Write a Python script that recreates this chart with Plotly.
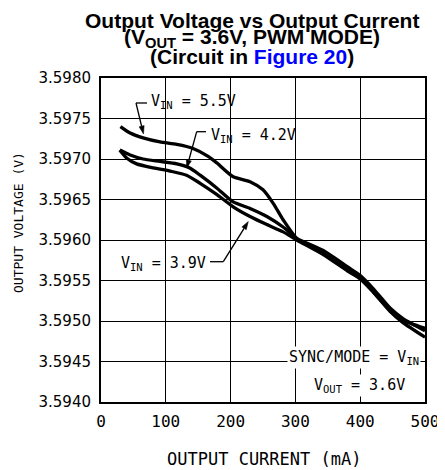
import math
import plotly.graph_objects as go

# ---- data ----
i_55 = [30, 45, 65, 91, 117, 142, 166, 179, 204, 230, 250, 266, 281, 302, 343, 380, 400, 420, 446, 466, 500]
v_55 = [3.59740, 3.59732, 3.59726, 3.59721, 3.59718, 3.59713, 3.59703, 3.59695, 3.59678, 3.59672,
        3.59662, 3.59645, 3.59625, 3.59602, 3.59583, 3.59563, 3.59553, 3.59536, 3.59512, 3.59498, 3.59480]

i_42 = [29, 45, 65, 91, 117, 137, 153, 179, 204, 230, 256, 281, 302, 343, 380, 400, 420, 446, 466, 500]
v_42 = [3.59711, 3.59705, 3.59700, 3.59697, 3.59694, 3.59689, 3.59680, 3.59664, 3.59647, 3.59639,
        3.59629, 3.59616, 3.59602, 3.59587, 3.59567, 3.59556, 3.59540, 3.59516, 3.59503, 3.59488]

i_39 = [29, 40, 55, 81, 107, 132, 153, 179, 204, 230, 256, 281, 302, 343, 380, 400, 420, 446, 466, 500]
v_39 = [3.59711, 3.59701, 3.59694, 3.59689, 3.59685, 3.59680, 3.59670, 3.59656, 3.59641, 3.59629,
        3.59619, 3.59610, 3.59600, 3.59582, 3.59562, 3.59552, 3.59536, 3.59513, 3.59501, 3.59491]

x_ticks = [0, 100, 200, 300, 400, 500]
y_ticks = [3.5940, 3.5945, 3.5950, 3.5955, 3.5960, 3.5965, 3.5970, 3.5975, 3.5980]

# page body has an 8px margin; figure is sized to fit the window
OFF = 8
W, H = 445 - OFF, 470 - OFF
PX0, PX1, PY0, PY1 = 101, 425, 78, 402          # plot area in screen pixels
L, T = PX0 - OFF, PY0 - OFF
R, B = W - (PX1 - OFF), H - (PY1 - OFF)
PW, PH = PX1 - PX0, PY1 - PY0

def px(x):
    return (x - PX0) / PW

def py(y):
    return (PY1 - y) / PH

MONO = "DejaVu Sans Mono"

fig = go.Figure()
for xs, ys in [(i_55, v_55), (i_42, v_42), (i_39, v_39)]:
    fig.add_trace(go.Scatter(x=xs, y=ys, mode="lines",
                             line=dict(color="black", width=3.3, shape="spline", smoothing=0.6),
                             showlegend=False, hoverinfo="skip"))

ann = []
# title lines
tfont = dict(family="Liberation Sans", size=21, color="black", weight="bold")
ann.append(dict(text="Output Voltage vs Output Current", x=px(252), y=py(20), font=tfont))
ann.append(dict(text="(V<sub>OUT</sub> = 3.6V, PWM MODE)", x=px(252), y=py(38), font=tfont))
ann.append(dict(text="(Circuit in <span style='color:#0000ff'>Figure 20</span>)", x=px(252), y=py(57), font=tfont))
for a in ann:
    a.update(xref="paper", yref="paper", showarrow=False, xanchor="center", yanchor="middle")

lf = dict(family=MONO, size=15, color="black")
labels = [
    dict(text="V<sub>IN</sub> = 5.5V", x=px(149), y=py(101), xanchor="left"),
    dict(text="V<sub>IN</sub> = 4.2V", x=px(209), y=py(135), xanchor="left"),
    dict(text="V<sub>IN</sub> = 3.9V", x=px(119), y=py(263), xanchor="left"),
    dict(text="SYNC/MODE = V<sub>IN</sub>", x=px(421), y=py(357), xanchor="right", bgcolor="white"),
    dict(text="V<sub>OUT</sub> = 3.6V", x=px(407), y=py(385), xanchor="right", bgcolor="white"),
]
for a in labels:
    a.update(xref="paper", yref="paper", showarrow=False, yanchor="middle", font=lf)
    ann.append(a)

# axis titles
ann.append(dict(text="OUTPUT CURRENT (mA)", x=px(263.5), y=py(459), xref="paper", yref="paper",
                xanchor="center", yanchor="middle",
                showarrow=False, font=dict(family=MONO, size=17, color="black")))
ann.append(dict(text="OUTPUT VOLTAGE (V)", x=px(18), y=py(222), xref="paper", yref="paper",
                xanchor="center", yanchor="middle",
                showarrow=False, textangle=-90, font=dict(family=MONO, size=13, color="black")))

shapes = []
# horizontal stubs of the leaders
for (x0, y0, x1, y1) in [(136, 103, 147, 103), (196.7, 131.7, 206, 131.7), (210, 261.7, 223.3, 261.7)]:
    shapes.append(dict(type="line", xref="paper", yref="paper", x0=px(x0), y0=py(y0), x1=px(x1), y1=py(y1),
                       line=dict(color="black", width=1.3)))
# slanted leaders with arrowheads (tip, tail) in pixels
leaders = [((143.5, 134), (136, 103)), ((186.7, 168), (196.7, 131.7)), ((248.3, 221.5), (223.3, 261.7))]
for (tx, ty), (sx, sy) in leaders:
    d = math.hypot(tx - sx, ty - sy)
    ux, uy = (tx - sx) / d, (ty - sy) / d
    hl, hw = 8.0, 2.6
    bx, by = tx - ux * hl, ty - uy * hl
    shapes.append(dict(type="line", xref="paper", yref="paper", x0=px(sx), y0=py(sy), x1=px(bx), y1=py(by),
                       line=dict(color="black", width=1.3)))
    p1 = (bx - uy * hw, by + ux * hw)
    p2 = (bx + uy * hw, by - ux * hw)
    path = "M %f,%f L %f,%f L %f,%f Z" % (px(tx), py(ty), px(p1[0]), py(p1[1]), px(p2[0]), py(p2[1]))
    shapes.append(dict(type="path", xref="paper", yref="paper", path=path,
                       fillcolor="black", line=dict(color="black", width=0.5)))

fig.update_layout(
    width=W, height=H, margin=dict(l=L, r=R, t=T, b=B, autoexpand=False),
    paper_bgcolor="white", plot_bgcolor="white",
    annotations=ann, shapes=shapes,
    xaxis=dict(range=[0, 500], tickvals=x_ticks, ticktext=[str(v) for v in x_ticks], automargin=False,
               showgrid=True, gridcolor="black", gridwidth=1.3, zeroline=False,
               showline=True, linecolor="black", linewidth=2, mirror=True, ticks="",
               tickfont=dict(family=MONO, size=16, color="black"), ticklabelstandoff=4),
    yaxis=dict(range=[3.5940, 3.5980], tickvals=y_ticks, ticktext=["%.4f" % v for v in y_ticks],
               automargin=False,
               showgrid=True, gridcolor="black", gridwidth=1.3, zeroline=False,
               showline=True, linecolor="black", linewidth=2, mirror=True, ticks="",
               tickfont=dict(family="DejaVu Sans", size=15, color="black"), ticklabelstandoff=5),
)

fig.write_html("out.html")
